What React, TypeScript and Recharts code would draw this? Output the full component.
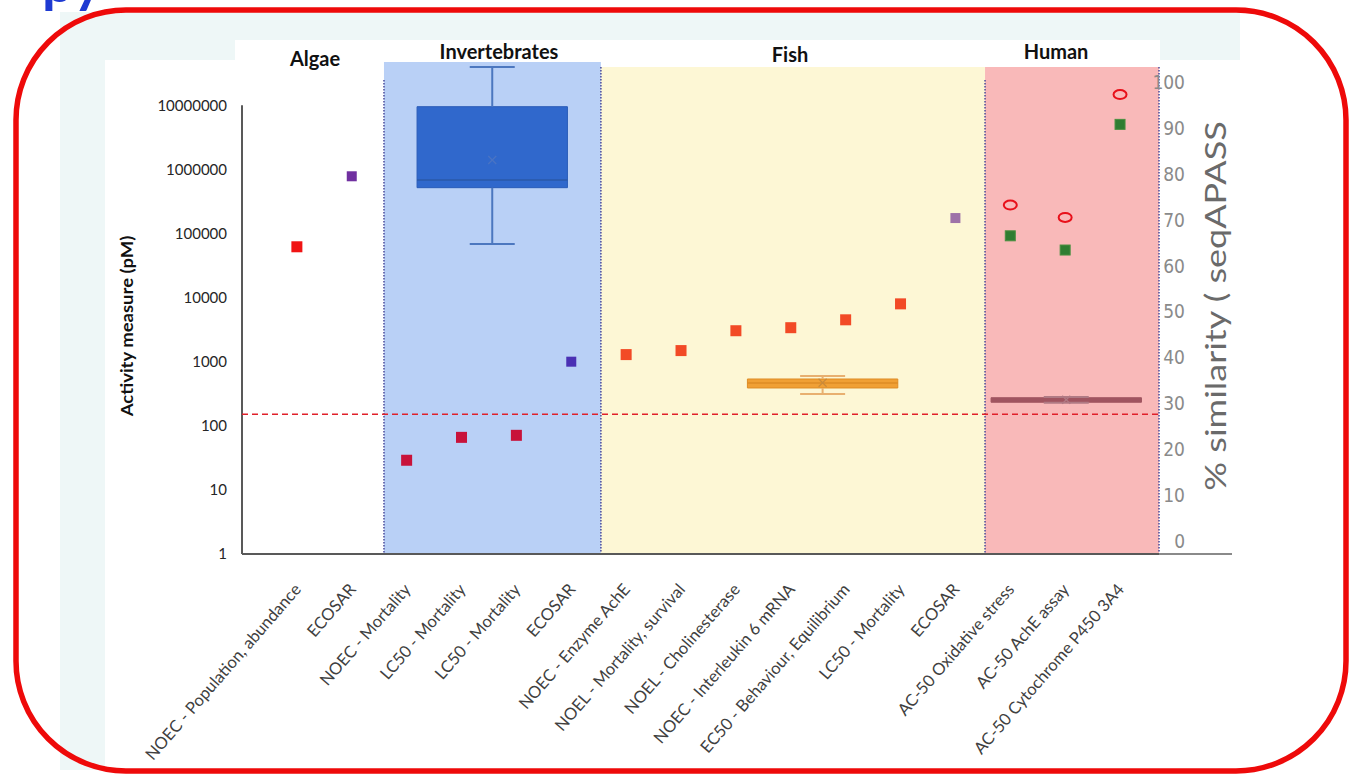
import React from "react";
import { ComposedChart, XAxis, YAxis, Scatter, ReferenceArea, ReferenceLine } from "recharts";

const categories = [
  "NOEC - Population, abundance",
  "ECOSAR",
  "NOEC - Mortality",
  "LC50 - Mortality",
  "LC50 - Mortality",
  "ECOSAR",
  "NOEC - Enzyme AchE",
  "NOEL - Mortality, survival",
  "NOEL - Cholinesterase",
  "NOEC - Interleukin 6 mRNA",
  "EC50 - Behaviour, Equilibrium",
  "LC50 - Mortality",
  "ECOSAR",
  "AC-50 Oxidative stress",
  "AC-50 AchE assay",
  "AC-50 Cytochrome P450 3A4",
];

// activity measure (pM), left log axis
const toxicityValues = [62000, null, 29, 66, 71, null, 1290, 1490, 3040, 3390, 4500, 7980, null, null, null, null];
const ecosarValues = [null, 780000, null, null, null, 1000, null, null, null, null, null, null, 174000, null, null, null];

// % similarity (seqAPASS), right axis
const seqapassSimilarity = [null, null, null, null, null, null, null, null, null, null, null, null, null, 66.7, 63.6, 91.0];
const seqapassReference = [null, null, null, null, null, null, null, null, null, null, null, null, null, 73.4, 70.7, 97.5];

const groupNames = ["Algae", "Invertebrates", "Fish", "Human"];

// box plots (pM)
const boxNames = ["Invertebrates", "Fish", "Human"];
const boxMin = [68600, 313, 228];
const boxQ1 = [518000, 389, 233];
const boxMedian = [684000, 466, 252];
const boxQ3 = [9500000, 537, 274];
const boxMax = [39500000, 598, 280];
const boxMean = [1400000, 470, 255];

const thresholdValue = 151;

const leftTicks = [1, 10, 100, 1000, 10000, 100000, 1000000, 10000000];
const rightTicks = [0, 10, 20, 30, 40, 50, 60, 70, 80, 90, 100];

// layout (category units)
const X_MAX = 16.71;
const LEFT_MAX = 4.73e7;
const bandEdges = [0, 2.587, 6.54, 13.54, X_MAX];
const bandTops = [LEFT_MAX, LEFT_MAX, 3.95e7, 3.95e7];
const bandFills = ["#ffffff", "#b9d0f6", "#fdf7d5", "#f9b9b9"];
const boxCenters = [4.56, 10.58, 15.02];
const BOX_HALF = 1.37;
const CAP_HALF = 0.41;
const boxFills = ["#3068cc", "#f0a035", "#a05560"];
const boxStrokes = ["#2a5cb8", "#de8c26", "#a05560"];
const whiskerColors = ["#4c77bf", "#e8b070", "#b07a84"];
const toxColors = ["#f01414", "#f01414", "#c8123a", "#c8123a", "#c8123a", "#c8123a",
  "#f24a26", "#f24a26", "#f24a26", "#f24a26", "#f24a26", "#f24a26", "#f24a26", "#f24a26", "#f24a26", "#f24a26"];
const ecosarColors = ["#7030a0", "#7030a0", "#7030a0", "#7030a0", "#7030a0", "#4a30b4",
  "#9e72a8", "#9e72a8", "#9e72a8", "#9e72a8", "#9e72a8", "#9e72a8", "#9e72a8", "#9e72a8", "#9e72a8", "#9e72a8"];

const FONT = "Lato, 'Open Sans', sans-serif";

const toPoints = (values: (number | null)[]) =>
  values.map((v, i) => ({ x: i + 1, y: v })).filter((p) => p.y !== null);

const toxData = toPoints(toxicityValues);
const ecosarData = toPoints(ecosarValues);
const similarityData = toPoints(seqapassSimilarity);
const referenceData = toPoints(seqapassReference);
const meanData = boxMean.map((v, i) => ({ x: boxCenters[i], y: v, name: boxNames[i] }));

const squareShape = (size: number, colors: string[]) => (props: any) => {
  const { cx, cy, payload } = props;
  if (cx == null || cy == null) return <g />;
  return (
    <rect x={cx - size / 2} y={cy - size / 2} width={size} height={size} fill={colors[payload.x - 1]} />
  );
};

const greenSquare = (props: any) => {
  const { cx, cy } = props;
  if (cx == null || cy == null) return <g />;
  return <rect x={cx - 5} y={cy - 5} width={10} height={10} fill="#2f7d32" stroke="#4a8f40" strokeWidth={1} />;
};

const ringShape = (props: any) => {
  const { cx, cy } = props;
  if (cx == null || cy == null) return <g />;
  return <ellipse cx={cx} cy={cy} rx={6.5} ry={4.5} fill="none" stroke="#e8101a" strokeWidth={2} />;
};

const crossShape = (props: any) => {
  const { cx, cy, payload } = props;
  if (cx == null || cy == null) return <g />;
  const i = boxNames.indexOf(payload.name);
  const c = i === 0 ? "#4a74c4" : i === 1 ? "#c98a3a" : "#b07a84";
  return (
    <g stroke={c} strokeWidth={1.2}>
      <line x1={cx - 4} y1={cy - 4} x2={cx + 4} y2={cy + 4} />
      <line x1={cx - 4} y1={cy + 4} x2={cx + 4} y2={cy - 4} />
    </g>
  );
};

function CategoryTick(props: any) {
  const { x, y, payload } = props;
  const label = categories[payload.value - 1];
  if (!label) return null;
  return (
    <g transform={`translate(${x + 5},${y + 36})`}>
      <text textAnchor="end" transform="rotate(-49)" fontSize={16.6} fill="#404040" fontFamily={FONT}>
        {label}
      </text>
    </g>
  );
}

function RightTick(props: any) {
  const { x, y, payload } = props;
  return (
    <text
      x={x + 26}
      y={y}
      dy={6}
      textAnchor="end"
      fontSize={19}
      fill="#8a8a8a"
      fontFamily="'Liberation Sans Narrow', 'DejaVu Sans Condensed', sans-serif"
    >
      {payload.value}
    </text>
  );
}

export default function App() {
  const dotted = "#4a4a9a";
  return (
    <div style={{ position: "absolute", left: 0, top: 0, width: 1353, height: 775, background: "#ffffff", overflow: "hidden" }}>
      <svg width={1353} height={775} style={{ position: "absolute", left: 0, top: 0 }}>
        <rect x={60} y={12} width={1180} height={758} fill="#eef7f7" />
        <rect x={105} y={60} width={1135} height={710} fill="#ffffff" />
        <rect x={235} y={40} width={925} height={30} fill="#ffffff" />
      </svg>

      <div style={{ position: "absolute", left: 0, top: 0 }}>
        <ComposedChart width={1353} height={775} margin={{ top: 62, right: 114, bottom: 21, left: 142 }}>
          <XAxis
            type="number"
            dataKey="x"
            domain={[0, X_MAX]}
            ticks={categories.map((_, i) => i + 1)}
            interval={0}
            allowDataOverflow
            tick={<CategoryTick />}
            tickLine={false}
            tickSize={0}
            tickMargin={0}
            axisLine={{ stroke: "#595959", strokeWidth: 2 }}
            height={200}
          />
          <YAxis
            yAxisId="left"
            scale="log"
            domain={[1, LEFT_MAX]}
            ticks={leftTicks}
            allowDataOverflow
            axisLine={false}
            tickLine={false}
            tickSize={0}
            tickMargin={15}
            width={100}
            tickFormatter={(v: number) => String(v)}
            tick={{ fontSize: 15, fill: "#262626", fontFamily: FONT }}
          />
          <YAxis
            yAxisId="right"
            orientation="right"
            domain={[-2.68, 104.6]}
            ticks={rightTicks}
            allowDataOverflow
            axisLine={false}
            tickLine={false}
            tickSize={0}
            tickMargin={0}
            width={80}
            tick={<RightTick />}
          />

          {groupNames.map((g, i) => (
            <ReferenceArea
              key={g}
              yAxisId="left"
              x1={bandEdges[i]}
              x2={bandEdges[i + 1]}
              y1={1}
              y2={bandTops[i]}
              fill={bandFills[i]}
              fillOpacity={1}
              stroke="none"
            />
          ))}

          <ReferenceLine
            yAxisId="left"
            segment={[{ x: bandEdges[1], y: 2.48e7 }, { x: bandEdges[1], y: 1 }]}
            stroke={dotted}
            strokeWidth={1.5}
            strokeDasharray="1.5 1.5"
          />
          <ReferenceLine
            yAxisId="left"
            segment={[{ x: bandEdges[2], y: 3.95e7 }, { x: bandEdges[2], y: 1 }]}
            stroke={dotted}
            strokeWidth={1.5}
            strokeDasharray="1.5 1.5"
          />
          <ReferenceLine
            yAxisId="left"
            segment={[{ x: bandEdges[3], y: 2.48e7 }, { x: bandEdges[3], y: 1 }]}
            stroke={dotted}
            strokeWidth={1.5}
            strokeDasharray="1.5 1.5"
          />
          <ReferenceLine
            yAxisId="left"
            segment={[{ x: bandEdges[4], y: 3.95e7 }, { x: bandEdges[4], y: 1 }]}
            stroke={dotted}
            strokeWidth={1.5}
            strokeDasharray="1.5 1.5"
          />

          {/* left axis line */}
          <ReferenceLine
            yAxisId="left"
            segment={[{ x: 0, y: 1e7 }, { x: 0, y: 1 }]}
            stroke="#595959"
            strokeWidth={2}
          />

          {boxNames.map((b, i) => (
            <ReferenceArea
              key={"box" + b}
              yAxisId="left"
              x1={boxCenters[i] - BOX_HALF}
              x2={boxCenters[i] + BOX_HALF}
              y1={boxQ1[i]}
              y2={boxQ3[i]}
              fill={boxFills[i]}
              fillOpacity={1}
              stroke={boxStrokes[i]}
              strokeWidth={1}
            />
          ))}
          {boxNames.map((b, i) => (
            <ReferenceLine
              key={"med" + b}
              yAxisId="left"
              segment={[{ x: boxCenters[i] - BOX_HALF, y: boxMedian[i] }, { x: boxCenters[i] + BOX_HALF, y: boxMedian[i] }]}
              stroke={i === 0 ? "#2a58a8" : boxStrokes[i]}
              strokeWidth={1.5}
            />
          ))}
          {boxNames.map((b, i) => (
            <ReferenceLine
              key={"wu" + b}
              yAxisId="left"
              segment={[{ x: boxCenters[i], y: boxQ3[i] }, { x: boxCenters[i], y: boxMax[i] }]}
              stroke={whiskerColors[i]}
              strokeWidth={2}
            />
          ))}
          {boxNames.map((b, i) => (
            <ReferenceLine
              key={"wl" + b}
              yAxisId="left"
              segment={[{ x: boxCenters[i], y: boxQ1[i] }, { x: boxCenters[i], y: boxMin[i] }]}
              stroke={whiskerColors[i]}
              strokeWidth={2}
            />
          ))}
          {boxNames.map((b, i) => (
            <ReferenceLine
              key={"cu" + b}
              yAxisId="left"
              segment={[{ x: boxCenters[i] - CAP_HALF, y: boxMax[i] }, { x: boxCenters[i] + CAP_HALF, y: boxMax[i] }]}
              stroke={whiskerColors[i]}
              strokeWidth={2}
            />
          ))}
          {boxNames.map((b, i) => (
            <ReferenceLine
              key={"cl" + b}
              yAxisId="left"
              segment={[{ x: boxCenters[i] - CAP_HALF, y: boxMin[i] }, { x: boxCenters[i] + CAP_HALF, y: boxMin[i] }]}
              stroke={whiskerColors[i]}
              strokeWidth={2}
            />
          ))}

          <ReferenceLine
            yAxisId="left"
            y={thresholdValue}
            stroke="#e0202a"
            strokeWidth={1.5}
            strokeDasharray="6 4"
          />

          <Scatter yAxisId="left" data={meanData} dataKey="y" shape={crossShape} isAnimationActive={false} />
          <Scatter yAxisId="left" data={toxData} dataKey="y" shape={squareShape(11, toxColors)} isAnimationActive={false} />
          <Scatter yAxisId="left" data={ecosarData} dataKey="y" shape={squareShape(10, ecosarColors)} isAnimationActive={false} />
          <Scatter yAxisId="right" data={similarityData} dataKey="y" shape={greenSquare} isAnimationActive={false} />
          <Scatter yAxisId="right" data={referenceData} dataKey="y" shape={ringShape} isAnimationActive={false} />
        </ComposedChart>
      </div>

      <svg width={1353} height={775} style={{ position: "absolute", left: 0, top: 0, pointerEvents: "none" }}>
        <line x1={1159} y1={554} x2={1232} y2={554} stroke="#8a8a8a" strokeWidth={2} />
        <g fontFamily={FONT} fontWeight="bold" fill="#111" fontSize={20} textAnchor="middle">
          <text x={315} y={66}>{groupNames[0]}</text>
          <text x={499} y={59}>{groupNames[1]}</text>
          <text x={790} y={62}>{groupNames[2]}</text>
          <text x={1056} y={59}>{groupNames[3]}</text>
        </g>
        <text
          transform="translate(133,326) rotate(-90) scale(1,0.9)"
          textAnchor="middle"
          fontFamily={FONT}
          fontWeight="bold"
          fontSize={18.5}
          fill="#111"
        >
          Activity measure (pM)
        </text>
        <text
          transform="translate(1226,306) rotate(-90) scale(1,0.8)"
          textAnchor="middle"
          fontFamily={FONT}
          fontSize={36}
          fill="#6a6a6a"
        >
          % similarity ( seqAPASS
        </text>
        <text x={42} y={2} fontFamily={FONT} fontWeight="bold" fontSize={56} fill="#1e3ad2">
          py
        </text>
        <rect x={16} y={10} width={1330} height={761} rx={110} ry={110} fill="none" stroke="#ee0a0a" strokeWidth={5.5} />
      </svg>
    </div>
  );
}
